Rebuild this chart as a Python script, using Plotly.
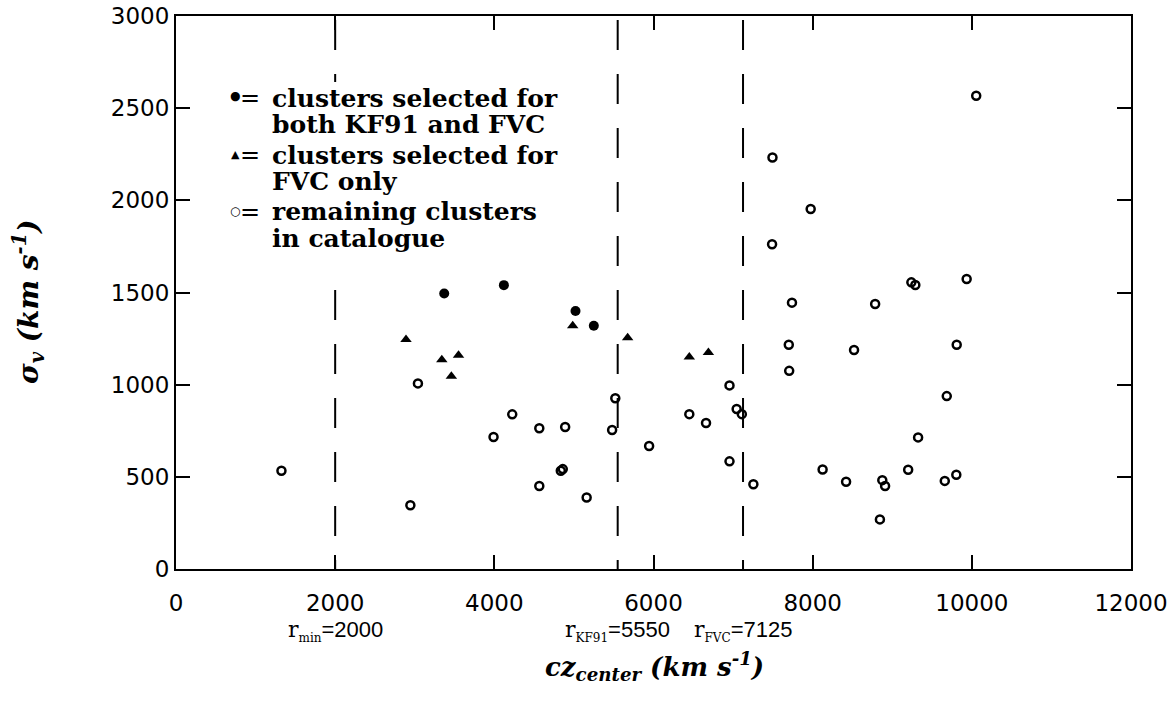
import plotly.graph_objects as go

# ---------------- data ----------------
both_cz = [3370, 4120, 5020, 5250]
both_sigma = [1495, 1540, 1400, 1320]

fvc_cz = [2890, 3340, 3550, 3460, 4985, 5675, 6450, 6690]
fvc_sigma = [1245, 1135, 1160, 1045, 1320, 1255, 1150, 1175]

rest_cz = [1325, 3040, 2945, 3990, 4225, 4565, 4565, 4890, 4835, 4860,
           5160, 5520, 5480, 5945, 6450, 6660, 6955, 7045, 7110, 6955,
           7255, 7495, 7490, 7700, 7705, 7740, 7975, 8125, 8420, 8520,
           8785, 8845, 8875, 8910, 9200, 9240, 9290, 9325, 9660, 9685,
           9805, 9810, 9935, 10055]
rest_sigma = [533, 1007, 346, 716, 839, 764, 450, 770, 533, 542,
              388, 926, 754, 667, 840, 792, 996, 868, 840, 584,
              460, 2232, 1762, 1217, 1075, 1445, 1953, 540, 473, 1188,
              1438, 269, 482, 450, 538, 1555, 1541, 714, 478, 938,
              511, 1217, 1573, 2567]

thresholds = [2000, 5550, 7125]
threshold_names = ["min", "KF91", "FVC"]

x_ticks = [0, 2000, 4000, 6000, 8000, 10000, 12000]
y_ticks = [0, 500, 1000, 1500, 2000, 2500, 3000]

legend_symbols = ["\u2022", "\u25B2", "\u25CB"]
legend_texts = [["clusters selected for", "both KF91 and FVC"],
                ["clusters selected for", "FVC only"],
                ["remaining clusters", "in catalogue"]]

# ---------------- layout geometry ----------------
W, H = 1172, 718
L, R, T, B = 176, 1131, 16, 569


def px(x):
    return (x - L) / (R - L)


def py(y):
    return (B - y) / (B - T)


SERIF = "DejaVu Serif"
SANS = "DejaVu Sans"

fig = go.Figure()
fig.add_trace(go.Scatter(x=rest_cz, y=rest_sigma, mode="markers", showlegend=False,
                         marker=dict(symbol="circle-open", size=8, color="black",
                                     line=dict(width=2.5, color="black"))))
fig.add_trace(go.Scatter(x=fvc_cz, y=fvc_sigma, mode="markers", showlegend=False,
                         marker=dict(symbol="triangle-up", size=10, color="black")))
fig.add_trace(go.Scatter(x=both_cz, y=both_sigma, mode="markers", showlegend=False,
                         marker=dict(symbol="circle", size=10, color="black")))

shapes = []
for t in thresholds:
    shapes.append(dict(type="line", xref="x", yref="paper", x0=t, x1=t, y0=1, y1=0,
                       line=dict(color="black", width=2, dash="0px,4px,30px,20px"),
                       layer="below"))
# white background behind the key
shapes.append(dict(type="rect", xref="paper", yref="paper",
                   x0=px(222), x1=px(598), y0=py(272), y1=py(82),
                   fillcolor="white", line=dict(width=0), layer="below"))

annotations = []
sym_y = [96.7, 154.0, 211.0]
line_y = [[98.3, 125.0], [155.0, 181.6], [211.6, 238.3]]
sym_sizes = [26, 11, 12]
for i in range(3):
    annotations.append(dict(xref="paper", yref="paper", x=px(235), y=py(sym_y[i]),
                            text=legend_symbols[i], showarrow=False,
                            xanchor="center", yanchor="middle",
                            font=dict(family=SERIF if i == 0 else SANS,
                                      size=sym_sizes[i], color="black",
                                      weight="bold")))
    annotations.append(dict(xref="paper", yref="paper", x=px(250), y=py(line_y[i][0]),
                            text="=", showarrow=False, xanchor="center", yanchor="middle",
                            font=dict(family=SERIF, size=24, color="black")))
    for j in range(2):
        annotations.append(dict(xref="paper", yref="paper", x=px(270), y=py(line_y[i][j]),
                                text=legend_texts[i][j], showarrow=False,
                                xanchor="left", yanchor="middle",
                                font=dict(family=SERIF, size=25, color="black",
                                          weight="bold")))

for t, nm in zip(thresholds, threshold_names):
    annotations.append(dict(
        xref="x", yref="paper", x=t, y=py(631),
        text=('<span style="font-family:DejaVu Serif">r<sub>'
              f'<span style="font-size:12px">{nm}</span></sub></span>={t}'),
        showarrow=False, xanchor="center", yanchor="middle",
        font=dict(family="Liberation Sans", size=22, color="black")))

annotations.append(dict(xref="paper", yref="paper", x=px(654), y=py(666),
                        text="cz<sub>center</sub> (km s<sup>-1</sup>)", showarrow=False,
                        xanchor="center", yanchor="middle",
                        font=dict(family=SERIF, size=26, color="black",
                                  style="italic", weight="bold")))
annotations.append(dict(xref="paper", yref="paper", x=px(28), y=py(302),
                        text="\u03c3<sub>v</sub> (km s<sup>-1</sup>)", showarrow=False,
                        textangle=-90, xanchor="center", yanchor="middle",
                        font=dict(family=SERIF, size=28, color="black",
                                  style="italic", weight="bold")))

axis_common = dict(showgrid=False, zeroline=False, showline=True, linewidth=2,
                   linecolor="black", ticks="inside", ticklen=14,
                   tickwidth=2, tickcolor="black", tickformat="d", automargin=False,
                   tickfont=dict(family=SANS, size=23, color="black"))

fig.update_layout(
    template="none",
    width=W, height=H,
    margin=dict(l=L, r=W - R, t=T, b=H - B, autoexpand=False),
    paper_bgcolor="white", plot_bgcolor="white",
    xaxis=dict(range=[0, 12000], tickvals=x_ticks, ticklabelstandoff=12,
               mirror="allticks", **axis_common),
    yaxis=dict(range=[0, 3000], tickvals=y_ticks, mirror="ticks", **axis_common),
    shapes=shapes, annotations=annotations,
)

fig.write_html("out.html")
